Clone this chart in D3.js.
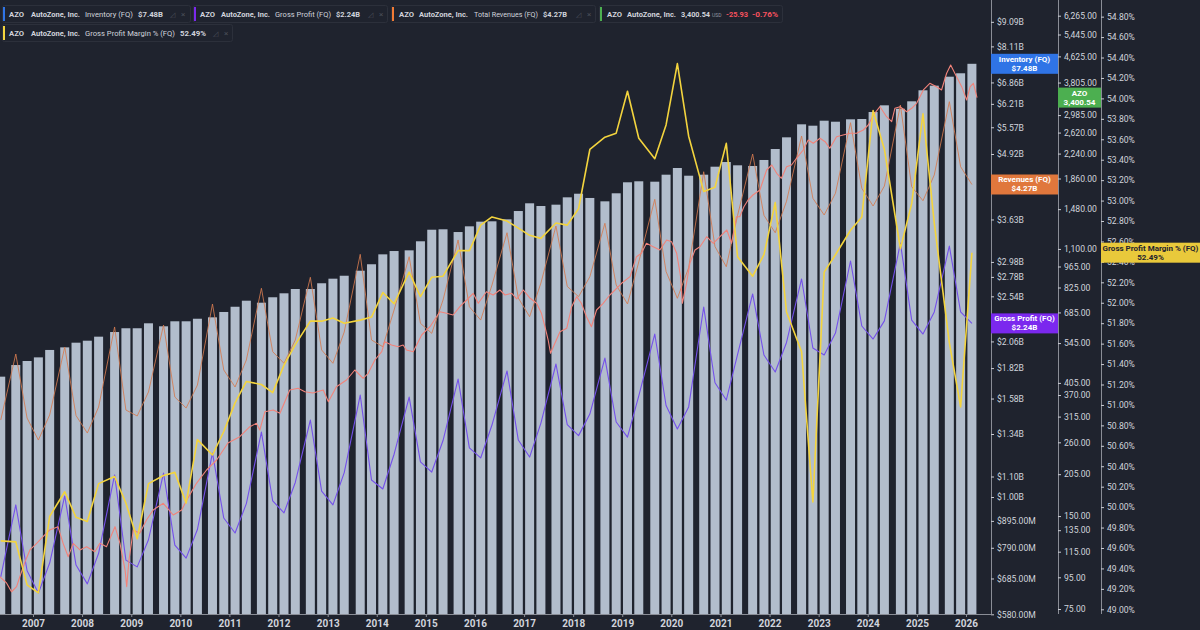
<!DOCTYPE html>
<html>
<head>
<meta charset="utf-8">
<script src="https://cdn.jsdelivr.net/npm/d3@7"></script>
<style>
  body { margin: 0; background: #1f232e; }
  svg { display: block; font-family: Roboto, "Noto Sans", sans-serif; }
</style>
</head>
<body>
<div id="chart"></div>
<script>
// AutoZone fiscal quarter ends (one line per calendar year)
const quarters = [
  "2006-05-06", "2006-08-26", "2006-11-18",
  "2007-02-10", "2007-05-05", "2007-08-25", "2007-11-17",
  "2008-02-09", "2008-05-03", "2008-08-30", "2008-11-22",
  "2009-02-14", "2009-05-09", "2009-08-29", "2009-11-21",
  "2010-02-13", "2010-05-08", "2010-08-28", "2010-11-20",
  "2011-02-12", "2011-05-07", "2011-08-27", "2011-11-19",
  "2012-02-11", "2012-05-05", "2012-08-25", "2012-11-17",
  "2013-02-09", "2013-05-04", "2013-08-31", "2013-11-23",
  "2014-02-15", "2014-05-10", "2014-08-30", "2014-11-22",
  "2015-02-14", "2015-05-09", "2015-08-29", "2015-11-21",
  "2016-02-13", "2016-05-07", "2016-08-27", "2016-11-19",
  "2017-02-11", "2017-05-06", "2017-08-26", "2017-11-18",
  "2018-02-10", "2018-05-05", "2018-08-25", "2018-11-17",
  "2019-02-09", "2019-05-04", "2019-08-31", "2019-11-23",
  "2020-02-15", "2020-05-09", "2020-08-29", "2020-11-21",
  "2021-02-13", "2021-05-08", "2021-08-28", "2021-11-20",
  "2022-02-12", "2022-05-07", "2022-08-27", "2022-11-19",
  "2023-02-11", "2023-05-06", "2023-08-26", "2023-11-18",
  "2024-02-10", "2024-05-04", "2024-08-31", "2024-11-23",
  "2025-02-15", "2025-05-10", "2025-08-30", "2025-11-22",
  "2026-02-14"
];

// Inventory (FQ), $B
const inventory = [
  1.749, 1.846, 1.881,
  1.913, 1.980, 2.004, 2.048,
  2.067, 2.106, 2.152, 2.190,
  2.190, 2.241, 2.210, 2.262,
  2.262, 2.289, 2.304, 2.362,
  2.420, 2.489, 2.466, 2.529,
  2.576, 2.628, 2.628, 2.699,
  2.757, 2.795, 2.861, 2.948,
  3.087, 3.135, 3.145, 3.280,
  3.461, 3.468, 3.424, 3.516,
  3.593, 3.599, 3.632, 3.775,
  3.913, 3.864, 3.888, 4.023,
  4.091, 4.011, 3.949, 4.099,
  4.314, 4.334, 4.326, 4.469,
  4.610, 4.448, 4.469, 4.638,
  4.740, 4.668, 4.653, 4.785,
  5.035, 5.316, 5.647, 5.611,
  5.743, 5.716, 5.780, 5.788,
  5.979, 6.168, 6.071, 6.284,
  6.614, 6.757, 7.045, 7.158,
  7.48
];

// Total Revenues (FQ), $B
const revenue = [
  1.430, 1.943, 1.443,
  1.303, 1.464, 2.007, 1.46,
  1.346, 1.519, 2.203, 1.498,
  1.457, 1.629, 2.223, 1.591,
  1.512, 1.682, 2.451, 1.804,
  1.667, 1.890, 2.637, 1.964,
  1.861, 2.074, 2.775, 1.980,
  1.861, 2.152, 3.087, 2.074,
  2.010, 2.384, 3.053, 2.241,
  2.139, 2.497, 3.300, 2.420,
  2.275, 2.677, 3.413, 2.520,
  2.311, 2.702, 3.521, 2.66,
  2.536, 2.782, 3.566, 2.677,
  2.451, 2.98, 3.986, 2.85,
  2.517, 2.90, 4.531, 3.20,
  2.915, 3.70, 4.920, 3.70,
  3.413, 3.95, 5.349, 4.005,
  3.706, 4.10, 5.690, 4.195,
  3.864, 4.24, 6.177, 4.227,
  3.960, 4.463, 6.273, 4.638,
  4.27
];

// Gross Profit (FQ), $B
const grossProfit = [
  0.690, 0.964, 0.71,
  0.640, 0.736, 1.005, 0.729,
  0.668, 0.77, 1.108, 0.746,
  0.723, 0.82, 1.118, 0.800,
  0.753, 0.86, 1.227, 0.907,
  0.846, 0.97, 1.352, 0.982,
  0.929, 1.07, 1.430, 1.028,
  0.964, 1.12, 1.606, 1.082,
  1.038, 1.22, 1.591, 1.177,
  1.123, 1.30, 1.730, 1.256,
  1.199, 1.397, 1.796, 1.303,
  1.204, 1.41, 1.855, 1.40,
  1.33, 1.47, 1.907, 1.417,
  1.321, 1.60, 2.132, 1.53,
  1.372, 1.52, 2.417, 1.70,
  1.569, 1.94, 2.568, 1.934,
  1.787, 2.05, 2.753, 1.998,
  1.934, 2.142, 2.993, 2.213,
  2.083, 2.266, 3.254, 2.275,
  2.132, 2.362, 3.209, 2.362,
  2.24
];

// Gross Profit Margin % (FQ)
const grossMargin = [
  49.67, 49.66, 49.24,
  49.16, 49.91, 50.15, 49.90,
  49.86, 50.23, 50.30, 50.04,
  49.69, 50.23, 50.31, 50.34,
  50.04, 50.66, 50.51, 50.74,
  51.02, 51.23, 51.20, 51.12,
  51.39, 51.59, 51.82, 51.82,
  51.85, 51.80, 51.83, 51.86,
  52.10, 51.99, 52.30, 52.06,
  52.25, 52.26, 52.51, 52.51,
  52.76, 52.84, 52.80, 52.73,
  52.66, 52.63, 52.78, 52.76,
  52.92, 53.50, 53.62, 53.66,
  54.07, 53.61, 53.41, 53.74,
  54.34, 53.63, 53.09, 53.13,
  53.56, 52.45, 52.26, 52.47,
  52.98, 51.91, 51.52, 50.05,
  52.30, 52.47, 52.71, 52.84,
  53.88, 53.50, 52.53, 52.97,
  53.85, 52.78, 51.61, 50.98,
  52.49
];

// AZO share price (USD)
const priceDates = [
  "2006-04-28", "2006-06-18", "2006-07-25", "2006-09-01", "2006-09-25", "2006-11-02", "2006-12-09",
  "2007-01-28", "2007-03-17", "2007-05-05", "2007-07-06", "2007-08-13", "2007-09-20", "2007-10-27", "2007-12-16",
  "2008-02-04", "2008-04-05", "2008-05-12", "2008-07-01", "2008-09-02", "2008-10-09", "2008-11-16", "2008-11-28", "2008-12-15",
  "2009-01-16", "2009-03-05", "2009-04-24", "2009-06-13", "2009-08-27", "2009-11-09",
  "2010-01-11", "2010-02-18", "2010-05-01", "2010-07-15", "2010-09-28", "2010-12-21",
  "2011-03-19", "2011-06-02", "2011-07-21", "2011-08-15", "2011-09-22", "2011-11-23",
  "2012-01-12", "2012-03-25", "2012-05-26", "2012-07-15", "2012-09-13", "2012-11-29",
  "2013-01-06", "2013-03-07", "2013-05-21", "2013-07-22", "2013-09-22", "2013-10-29", "2013-12-18",
  "2014-02-07", "2014-03-02", "2014-04-21", "2014-06-09", "2014-07-16", "2014-08-10", "2014-09-29", "2014-12-01",
  "2015-02-01", "2015-04-15", "2015-06-04", "2015-07-23", "2015-09-11", "2015-11-01", "2015-12-19",
  "2016-01-26", "2016-03-27", "2016-05-16", "2016-07-05", "2016-08-12", "2016-10-01", "2016-11-07", "2016-12-26",
  "2017-02-15", "2017-04-04", "2017-05-10", "2017-06-05", "2017-06-29", "2017-07-17", "2017-08-18", "2017-09-25", "2017-11-14", "2017-12-21",
  "2018-01-27", "2018-03-03", "2018-04-10", "2018-05-17", "2018-06-24", "2018-08-12", "2018-10-01", "2018-11-08", "2018-12-27",
  "2019-02-28", "2019-04-17", "2019-05-24", "2019-06-30", "2019-08-19", "2019-10-08", "2019-11-27",
  "2020-01-03", "2020-02-10", "2020-03-10", "2020-03-23", "2020-04-23", "2020-05-18", "2020-06-25", "2020-08-01", "2020-09-20", "2020-11-08", "2020-12-28",
  "2021-02-17", "2021-03-24", "2021-04-30", "2021-05-24", "2021-06-24", "2021-07-25", "2021-08-30", "2021-10-21", "2021-12-10",
  "2022-01-17", "2022-02-23", "2022-03-30", "2022-05-07", "2022-06-13", "2022-07-20", "2022-09-08", "2022-10-15", "2022-11-22",
  "2023-01-11", "2023-02-18", "2023-03-25", "2023-05-14", "2023-07-02", "2023-08-22", "2023-10-10", "2023-11-29",
  "2024-01-05", "2024-02-12", "2024-04-01", "2024-05-20", "2024-06-27", "2024-07-21", "2024-08-28", "2024-10-17", "2024-11-23", "2024-12-30",
  "2025-02-18", "2025-04-07", "2025-05-27", "2025-07-03", "2025-08-10", "2025-09-09", "2025-10-23", "2025-11-30",
  "2026-01-06", "2026-02-01", "2026-02-25", "2026-03-24"
];
const prices = [
  95.4, 91.1, 85.3, 88.6, 95.4, 106.5, 116.5,
  122.4, 128.6, 135.2, 138.6, 122.4, 110.8, 122.4, 116.5,
  119.4, 115.0, 122.4, 119.4, 138.6, 122.4, 100.3, 88.6, 108.1,
  135.2, 131.9, 145.7, 157.0, 165.0, 151.2,
  157.0, 169.1, 191.5, 211.5, 227.9, 258.7,
  271.1, 292.1, 299.7, 285.0, 326.7, 330.9,
  322.8, 384.2, 389.0, 379.3, 375.7, 384.2,
  352.0, 393.7, 413.9, 445.9, 419.2, 435.1, 480.5,
  511.1, 550.7, 537.4, 530.6, 537.4, 517.7, 511.1, 578.9,
  615.9, 688.8, 680.6, 672.1, 715.0, 751.6, 790.1,
  733.3, 799.6, 780.2, 809.9, 780.2, 790.1, 757.3, 809.9,
  761.2, 733.3, 680.6, 615.9, 557.7, 505.0, 544.2, 593.3, 608.6, 715.0,
  770.4, 733.3, 663.6, 615.9, 697.6, 733.3, 780.2, 809.9, 851.4,
  894.4, 1038.2, 1064.8, 1147.3, 1118.6, 1091.4, 1175.9,
  1161.1, 1064.8, 894.4, 733.3, 851.4, 988.3, 1091.4, 1118.6, 1205.2, 1147.3, 1205.2,
  1266.9, 1147.3, 1399.1, 1399.1, 1507.4, 1584.5, 1644.8, 1707.3, 1982.1,
  2057.4, 1934.0, 1863.2, 2031.5, 2057.4, 2162.9, 2301.0, 2479.1, 2418.9,
  2510.8, 2447.9, 2330.2, 2540.9, 2573.3, 2606.0, 2606.0, 2671.1,
  2772.5, 2987.0, 3178.0, 2949.5, 2841.5, 3140.2, 3178.0, 3061.4, 3140.2, 3259.5,
  3600.0, 3784.6, 3689.7, 3600.0, 4077.5, 4337.9, 3975.6, 3689.7,
  3340.7, 3689.7, 3784.6, 3400.54
];

const years = [2007, 2008, 2009, 2010, 2011, 2012, 2013, 2014, 2015, 2016,
               2017, 2018, 2019, 2020, 2021, 2022, 2023, 2024, 2025, 2026];
const moneyTicks = [9.09, 8.11, 6.86, 6.21, 5.57, 4.92, 3.63, 2.98, 2.78, 2.54,
                    2.06, 1.82, 1.58, 1.34, 1.10, 1.00, 0.895, 0.79, 0.685, 0.58];
const priceTicks = [6265, 5445, 4625, 3805, 2985, 2620, 2240, 1860, 1480, 1100, 965, 825,
                    685, 545, 405, 370, 315, 260, 205, 150, 135, 115, 95, 75];
const pctTicks = [54.8, 54.6, 54.4, 54.2, 54.0, 53.8, 53.6, 53.4, 53.2, 53.0, 52.8, 52.6,
                  52.4, 52.2, 52.0, 51.8, 51.6, 51.4, 51.2, 51.0, 50.8, 50.6, 50.4, 50.2,
                  50.0, 49.8, 49.6, 49.4, 49.2, 49.0];

const width = 1200, height = 630;
const plotRight = 991, plotBottom = 614;
const bg = "#1f232e";
const textColor = "#d1d4dc";

const parse = d3.timeParse("%Y-%m-%d");
const qDates = quarters.map(parse);

const svg = d3.select("#chart")
    .append("svg")
    .attr("width", width)
    .attr("height", height);

svg.append("rect").attr("width", width).attr("height", height).attr("fill", bg);

const x = d3.scaleTime()
    .domain([new Date(2007, 0, 1), new Date(2026, 0, 1)])
    .range([33, 966]);
const yMoney = d3.scaleLog().domain([0.58, 10.06]).range([614.3, 0]);
const yPrice = d3.scaleLog().domain([75, 7043]).range([609, 0]);
const yPct = d3.scaleLinear().domain([49, 54.963]).range([609.3, 0]);

svg.append("clipPath").attr("id", "plot")
  .append("rect").attr("x", 0).attr("y", 0).attr("width", plotRight).attr("height", plotBottom);

const plot = svg.append("g").attr("clip-path", "url(#plot)");

// inventory columns
plot.selectAll(".bar")
    .data(inventory)
    .enter().append("rect")
    .attr("class", "bar")
    .attr("x", (d, i) => x(qDates[i]) - 4.5)
    .attr("width", 9)
    .attr("y", d => yMoney(d))
    .attr("height", d => plotBottom - yMoney(d))
    .attr("fill", "#b2bdcc");

function drawLine(values, dates, yScale, color, w, opacity) {
    const line = d3.line()
        .x((d, i) => x(dates[i]))
        .y(d => yScale(d));
    plot.append("path")
        .datum(values)
        .attr("d", line)
        .attr("fill", "none")
        .attr("stroke", color)
        .attr("stroke-width", w)
        .attr("stroke-opacity", opacity)
        .attr("stroke-linejoin", "round");
}

drawLine(grossProfit, qDates, yMoney, "#7450ea", 1.1, 1);
drawLine(revenue, qDates, yMoney, "#d47a50", 1, 0.85);
drawLine(prices, priceDates.map(parse), yPrice, "#f2837a", 1.1, 1);
drawLine(grossMargin, qDates, yPct, "#f3d43e", 1.6, 1);

// bottom axis
svg.append("line")
    .attr("x1", 0).attr("x2", plotRight)
    .attr("y1", plotBottom + 0.5).attr("y2", plotBottom + 0.5)
    .attr("stroke", "#8a8d96");

const xAxis = svg.append("g")
    .attr("transform", `translate(0,${plotBottom})`)
    .call(d3.axisBottom(x)
        .tickValues(years.map(y => new Date(y, 0, 1)))
        .tickFormat(d3.timeFormat("%Y"))
        .tickSize(3)
        .tickSizeOuter(0)
        .tickPadding(3));
xAxis.select(".domain").remove();
xAxis.selectAll(".tick line").attr("stroke", "#8a8d96");
xAxis.selectAll("text")
    .attr("fill", textColor)
    .attr("font-size", 10)
    .attr("font-weight", "bold")
    .attr("font-family", "Roboto, sans-serif");

// right axes
function rightAxis(xPos, scale, ticks, fmt) {
    svg.append("line")
        .attr("x1", xPos + 0.5).attr("x2", xPos + 0.5)
        .attr("y1", 0).attr("y2", plotBottom)
        .attr("stroke", "#8a8d96");
    const g = svg.append("g")
        .attr("transform", `translate(${xPos},0)`)
        .call(d3.axisRight(scale)
            .tickValues(ticks)
            .tickFormat(fmt)
            .tickSize(3)
            .tickSizeOuter(0)
            .tickPadding(3));
    g.select(".domain").remove();
    g.selectAll(".tick line").attr("stroke", "#c9ccd4");
    g.selectAll("text")
        .attr("fill", textColor)
        .attr("font-size", 8.6)
        .attr("font-family", "Roboto, sans-serif");
}

rightAxis(991, yMoney, moneyTicks,
    d => d >= 1 ? "$" + d.toFixed(2) + "B" : "$" + (d * 1000).toFixed(2) + "M");
rightAxis(1058, yPrice, priceTicks, d3.format(",.2f"));
rightAxis(1101, yPct, pctTicks, d => d.toFixed(2) + "%");

// last value labels on the scales
function valueLabel(x0, x1, yc, fill, lines, txt) {
    const g = svg.append("g");
    g.append("rect")
        .attr("x", x0).attr("y", yc - 10)
        .attr("width", x1 - x0).attr("height", 20)
        .attr("fill", fill);
    lines.forEach((t, i) => {
        g.append("text")
            .attr("x", (x0 + x1) / 2)
            .attr("y", yc - 2 + i * 9)
            .attr("text-anchor", "middle")
            .attr("font-size", 8)
            .attr("font-weight", "bold")
            .attr("fill", txt)
            .text(t);
    });
}

const lastI = inventory.length - 1;
valueLabel(991, 1058, yMoney(inventory[lastI]), "#2f74e6", ["Inventory (FQ)", "$7.48B"], "#ffffff");
valueLabel(991, 1058, yMoney(revenue[lastI]), "#e0773c", ["Revenues (FQ)", "$4.27B"], "#ffffff");
valueLabel(991, 1058, yMoney(grossProfit[lastI]), "#7b28ee", ["Gross Profit (FQ)", "$2.24B"], "#ffffff");
valueLabel(1058, 1101, yPrice(prices[prices.length - 1]), "#4caf50", ["AZO", "3,400.54"], "#ffffff");
valueLabel(1101, 1200, yPct(grossMargin[lastI]), "#e9c93b", ["Gross Profit Margin % (FQ)", "52.49%"], "#1f232e");

// legend
const legends = [
    { x: 2, y: 5, w: 188, color: "#2f74e6", parts: [
        ["AZO", 9, 15, "bold"], ["AutoZone, Inc.", 31, 49, "bold"],
        ["Inventory (FQ)", 85, 48, "normal"], ["$7.48B", 138, 25, "bold"]], icons: 170 },
    { x: 193, y: 5, w: 194, color: "#7b28ee", parts: [
        ["AZO", 200, 15, "bold"], ["AutoZone, Inc.", 221, 49, "bold"],
        ["Gross Profit (FQ)", 275, 56, "normal"], ["$2.24B", 336, 24, "bold"]], icons: 368 },
    { x: 391, y: 5, w: 204, color: "#f07a35", parts: [
        ["AZO", 399, 15, "bold"], ["AutoZone, Inc.", 419, 49, "bold"],
        ["Total Revenues (FQ)", 474, 64, "normal"], ["$4.27B", 543, 24, "bold"]], icons: 576 },
    { x: 599, y: 5, w: 183, color: "#4caf50", parts: [
        ["AZO", 607, 15, "bold"], ["AutoZone, Inc.", 627, 49, "bold"],
        ["3,400.54", 681, 29, "bold"]], icons: null },
    { x: 2, y: 24, w: 230, color: "#f3d43e", parts: [
        ["AZO", 9, 15, "bold"], ["AutoZone, Inc.", 31, 49, "bold"],
        ["Gross Profit Margin % (FQ)", 85, 90, "normal"], ["52.49%", 180, 26, "bold"]], icons: 213 }
];

const leg = svg.append("g").attr("font-size", 7.6).attr("font-family", "Roboto, sans-serif");
legends.forEach(l => {
    leg.append("rect")
        .attr("x", l.x + 0.5).attr("y", l.y + 0.5)
        .attr("width", l.w).attr("height", 17)
        .attr("rx", 2)
        .attr("fill", bg)
        .attr("stroke", "#2c303b");
    leg.append("rect")
        .attr("x", l.x + 1).attr("y", l.y + 2)
        .attr("width", 2).attr("height", 14)
        .attr("fill", l.color);
    l.parts.forEach(p => {
        leg.append("text")
            .attr("x", p[1]).attr("y", l.y + 12)
            .attr("textLength", p[2])
            .attr("lengthAdjust", "spacingAndGlyphs")
            .attr("font-weight", p[3])
            .attr("fill", textColor)
            .text(p[0]);
    });
    if (l.icons !== null) {
        leg.append("text").attr("x", l.icons).attr("y", l.y + 12)
            .attr("fill", "#4a4e59").attr("font-size", 7).text("◿");
        leg.append("text").attr("x", l.icons + 11).attr("y", l.y + 12)
            .attr("fill", "#4a4e59").attr("font-size", 8).text("×");
    }
});
// price legend extras
leg.append("text").attr("x", 712).attr("y", 17).attr("font-size", 5)
    .attr("fill", "#9598a1").text("USD");
leg.append("text").attr("x", 726).attr("y", 17)
    .attr("textLength", 22).attr("lengthAdjust", "spacingAndGlyphs")
    .attr("font-weight", "bold").attr("fill", "#f7525f").text("-25.93");
leg.append("text").attr("x", 752).attr("y", 17)
    .attr("textLength", 26).attr("lengthAdjust", "spacingAndGlyphs")
    .attr("font-weight", "bold").attr("fill", "#f7525f").text("-0.76%");
</script>
</body>
</html>
